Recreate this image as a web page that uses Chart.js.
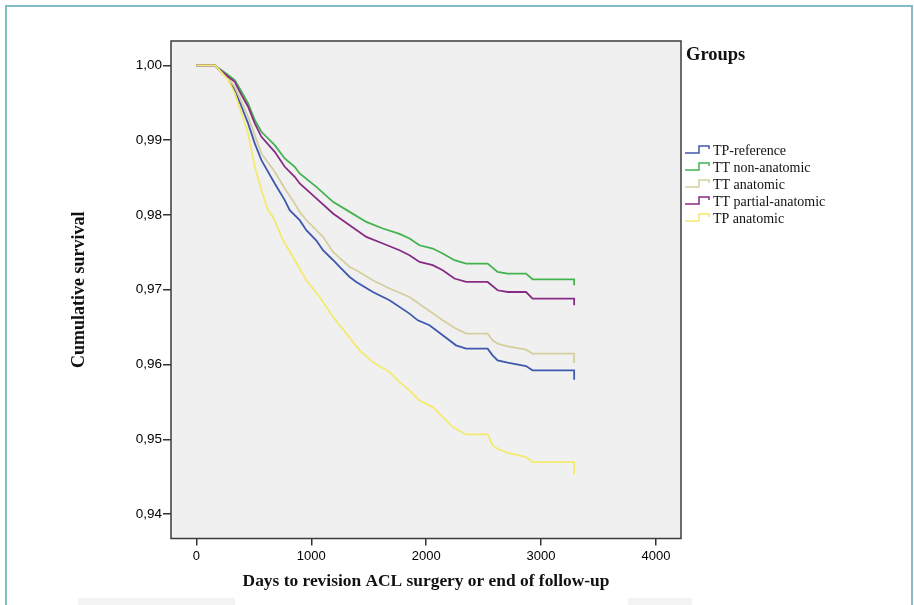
<!DOCTYPE html>
<html>
<head>
<meta charset="utf-8">
<script src="https://cdn.jsdelivr.net/npm/chart.js@4.4.1/dist/chart.umd.min.js"></script>
<style>
  html, body { margin: 0; padding: 0; background: #fff; }
  #wrap { position: relative; width: 914px; height: 605px; overflow: hidden; }
  #frame { position: absolute; left: 5px; top: 5px; width: 908px; height: 640px; border: 2px solid #82bcc8; box-sizing: border-box; }
  .strip { position: absolute; background: #f3f3f3; top: 598px; height: 7px; }
  canvas { position: absolute; left: 0; top: 0; }
</style>
</head>
<body>
<div id="wrap">
  <div id="frame"></div>
  <div class="strip" style="left:78px;width:157px"></div>
  <div class="strip" style="left:628px;width:64px"></div>
  <canvas id="survChart" width="914" height="605"></canvas>
</div>
<script>
const SANS = '"Liberation Sans", Arial, Helvetica, sans-serif';
const SERIF = '"Liberation Serif", "Times New Roman", serif';

const groups = ['TP-reference', 'TT non-anatomic', 'TT anatomic', 'TT partial-anatomic', 'TP anatomic'];
const xTicks = [0, 1000, 2000, 3000, 4000];
const yTicks = [0.94, 0.95, 0.96, 0.97, 0.98, 0.99, 1.00];

// TP-reference
const refDays = [0, 160, 276, 334, 393, 450, 508, 566, 682, 769, 812, 899, 957, 1044, 1102, 1189, 1247, 1334, 1392, 1536, 1681, 1855, 1927, 2029, 2144, 2260, 2348, 2535, 2578, 2622, 2709, 2869, 2926, 3288, 3288];
const refSurv = [1, 1, 0.99817, 0.99669, 0.99446, 0.99224, 0.98956, 0.98732, 0.98420, 0.98197, 0.98063, 0.97929, 0.97795, 0.97657, 0.97527, 0.97397, 0.97304, 0.97170, 0.97103, 0.96969, 0.96858, 0.96680, 0.96590, 0.96524, 0.96390, 0.96256, 0.96212, 0.96212, 0.96122, 0.96055, 0.96024, 0.95979, 0.95921, 0.95921, 0.95797];

// TT non-anatomic
const ttNonDays = [0, 160, 276, 334, 393, 450, 508, 566, 682, 769, 856, 899, 1044, 1189, 1334, 1479, 1623, 1768, 1855, 1942, 2057, 2144, 2246, 2348, 2535, 2622, 2709, 2869, 2926, 3288, 3288];
const ttNonSurv = [1, 1, 0.99870, 0.99803, 0.99647, 0.99491, 0.99268, 0.99111, 0.98933, 0.98755, 0.98643, 0.98554, 0.98375, 0.98174, 0.98040, 0.97906, 0.97818, 0.97745, 0.97684, 0.97594, 0.97550, 0.97483, 0.97394, 0.97349, 0.97349, 0.97237, 0.97215, 0.97215, 0.97139, 0.97139, 0.97059];

// TT anatomic
const ttAnatDays = [0, 160, 276, 334, 393, 450, 508, 566, 682, 769, 856, 899, 957, 1044, 1102, 1189, 1334, 1392, 1536, 1681, 1855, 2144, 2260, 2348, 2535, 2578, 2622, 2709, 2869, 2926, 3288, 3288];
const ttAnatSurv = [1, 1, 0.99826, 0.99714, 0.99513, 0.99312, 0.99067, 0.98822, 0.98576, 0.98353, 0.98153, 0.98040, 0.97929, 0.97795, 0.97706, 0.97505, 0.97304, 0.97260, 0.97126, 0.97015, 0.96902, 0.96590, 0.96479, 0.96412, 0.96412, 0.96323, 0.96278, 0.96242, 0.96198, 0.96145, 0.96145, 0.96019];

// TT partial-anatomic
const ttPartDays = [0, 160, 276, 334, 393, 450, 508, 566, 682, 769, 856, 899, 1044, 1189, 1334, 1479, 1623, 1768, 1855, 1942, 2057, 2144, 2246, 2348, 2535, 2622, 2709, 2869, 2926, 3288, 3288];
const ttPartSurv = [1, 1, 0.99847, 0.99780, 0.99602, 0.99446, 0.99224, 0.99044, 0.98843, 0.98643, 0.98509, 0.98420, 0.98220, 0.98019, 0.97862, 0.97706, 0.97617, 0.97527, 0.97460, 0.97371, 0.97327, 0.97260, 0.97149, 0.97103, 0.97103, 0.96992, 0.96969, 0.96969, 0.96881, 0.96881, 0.96791];

// TP anatomic
const tpAnatDays = [0, 160, 189, 276, 334, 393, 450, 508, 566, 624, 667, 754, 841, 957, 1073, 1189, 1305, 1420, 1536, 1594, 1681, 1768, 1855, 1942, 2057, 2144, 2231, 2348, 2535, 2578, 2622, 2709, 2869, 2926, 3288, 3288];
const tpAnatSurv = [1, 1, 0.99960, 0.99803, 0.99625, 0.99357, 0.99090, 0.98643, 0.98331, 0.98063, 0.97973, 0.97661, 0.97438, 0.97126, 0.96902, 0.96635, 0.96412, 0.96188, 0.96032, 0.95975, 0.95898, 0.95764, 0.95653, 0.95519, 0.95430, 0.95296, 0.95162, 0.95064, 0.95064, 0.94917, 0.94873, 0.94819, 0.94760, 0.94693, 0.94693, 0.94529];

const COLORS = {
  blue: '#3f58ad',
  green: '#43b24f',
  beige: '#d5cf9f',
  purple: '#872c85',
  yellow: '#f3ea6f',
};

function toPoints(days, surv) {
  return days.map((d, i) => ({ x: d, y: surv[i] }));
}

const data = {
  datasets: [
    { label: groups[0], data: toPoints(refDays, refSurv), borderColor: COLORS.blue, order: 3 },
    { label: groups[1], data: toPoints(ttNonDays, ttNonSurv), borderColor: COLORS.green, order: 4 },
    { label: groups[2], data: toPoints(ttAnatDays, ttAnatSurv), borderColor: COLORS.beige, order: 2 },
    { label: groups[3], data: toPoints(ttPartDays, ttPartSurv), borderColor: COLORS.purple, order: 1 },
    { label: groups[4], data: toPoints(tpAnatDays, tpAnatSurv), borderColor: COLORS.yellow, order: 0 },
  ]
};

const framePlugin = {
  id: 'frame',
  beforeDraw: chart => {
    const { ctx, chartArea: a } = chart;
    ctx.save();
    ctx.fillStyle = '#f0f0f0';
    ctx.fillRect(a.left, a.top, a.right - a.left, a.bottom - a.top);
    ctx.restore();
  },
  afterDraw: chart => {
    const { ctx, chartArea: a } = chart;
    ctx.save();
    ctx.strokeStyle = '#3c3c3c';
    ctx.lineWidth = 1.5;
    ctx.strokeRect(a.left, a.top, a.right - a.left, a.bottom - a.top);

    // legend with step icons
    ctx.fillStyle = '#111';
    ctx.textBaseline = 'middle';
    ctx.textAlign = 'left';
    ctx.font = 'bold 18.5px ' + SERIF;
    ctx.fillText('Groups', a.right + 5, 55);

    ctx.font = '14px ' + SERIF;
    chart.data.datasets.forEach((ds, i) => {
      const y = 150 + i * 17;
      const x0 = a.right + 4;
      ctx.beginPath();
      ctx.moveTo(x0, y + 3);
      ctx.lineTo(x0 + 14, y + 3);
      ctx.lineTo(x0 + 14, y - 4);
      ctx.lineTo(x0 + 24, y - 4);
      ctx.lineTo(x0 + 24, y - 1);
      ctx.strokeStyle = ds.borderColor;
      ctx.lineWidth = 1.5;
      ctx.stroke();
      ctx.fillStyle = '#111';
      ctx.fillText(ds.label, x0 + 28, y + 1);
    });
    ctx.restore();
  }
};

const config = {
  type: 'line',
  data: data,
  options: {
    responsive: false,
    animation: false,
    devicePixelRatio: 1,
    layout: {
      padding: { left: 60, right: 233, top: 41, bottom: 8 }
    },
    plugins: {
      legend: { display: false },
      tooltip: { enabled: false },
    },
    elements: {
      line: { borderWidth: 1.8, tension: 0, fill: false },
      point: { radius: 0, hitRadius: 0 },
    },
    scales: {
      x: {
        type: 'linear',
        min: -221,
        max: 4218,
        afterBuildTicks: scale => { scale.ticks = xTicks.map(v => ({ value: v })); },
        afterFit: scale => { scale.height = 58.5; },
        grid: { drawOnChartArea: false, drawTicks: true, tickLength: 7, color: '#333', lineWidth: 1.5 },
        border: { display: false },
        ticks: {
          padding: 3,
          color: '#000',
          maxRotation: 0,
          autoSkip: false,
          font: { family: SANS, size: 13 },
          callback: value => String(value)
        },
        title: {
          display: true,
          text: 'Days to revision ACL surgery or end of follow-up',
          color: '#111',
          font: { family: SERIF, size: 17.4, weight: 'bold' },
          padding: { top: 0, bottom: 5 }
        }
      },
      y: {
        type: 'linear',
        min: 0.93673,
        max: 1.00325,
        afterBuildTicks: scale => { scale.ticks = yTicks.map(v => ({ value: v })); },
        afterFit: scale => { scale.width = 111; },
        grid: { drawOnChartArea: false, drawTicks: true, tickLength: 8, color: '#333', lineWidth: 1.5 },
        border: { display: false },
        ticks: {
          padding: 1,
          color: '#000',
          font: { family: SANS, size: 13.5 },
          callback: value => value.toFixed(2).replace('.', ',')
        },
        title: {
          display: true,
          text: 'Cumulative survival',
          color: '#111',
          font: { family: SERIF, size: 18, weight: 'bold' },
          padding: { top: 9, bottom: 0 }
        }
      }
    }
  },
  plugins: [framePlugin]
};

const ctx = document.getElementById('survChart').getContext('2d');
const chartInstance = new Chart(ctx, config);
</script>
</body>
</html>
